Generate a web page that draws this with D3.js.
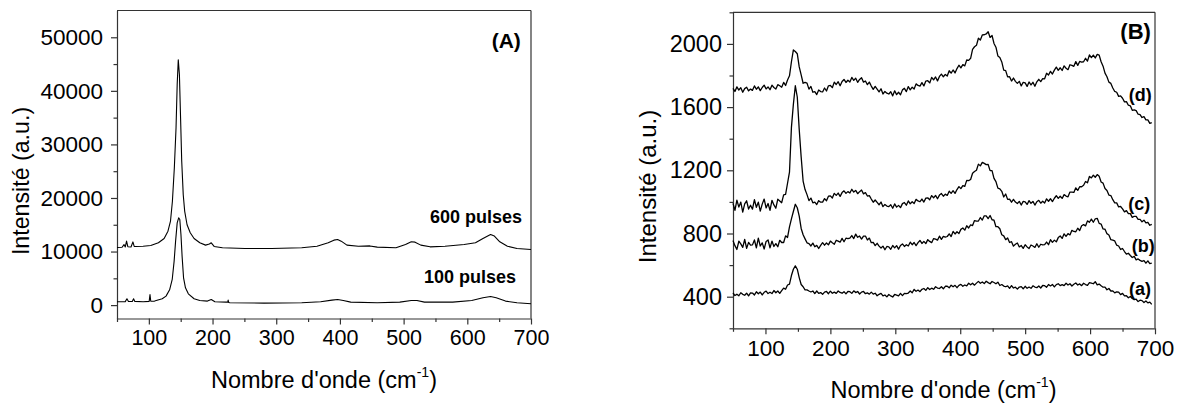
<!DOCTYPE html>
<html><head><meta charset="utf-8">
<script src="https://cdn.jsdelivr.net/npm/d3@7"></script>
<style>
body{margin:0;background:#fff;}
svg{display:block;font-family:"Liberation Sans",Arial,sans-serif;}
.axis path,.axis line{stroke:#333;stroke-width:1.2px;}
.axis text{fill:#000;}
</style></head><body>
<svg id="c" width="1184" height="406"></svg>
<script>
// ---------- Panel A data ----------
const waveA600 = [50,58,61,63,65,67,72,75,77,79,91,103,115,124,130,134,137,140,142.7,144.5,146.2,148,149.8,151.6,154,156.3,160,165,171,180,189,195,198,202.5,215.6,251,292.6,340,364,381.6,390.5,396.4,402,411,429,447,458.6,488,503,512,518,527,541.6,565,595,612.8,624.6,636.5,642.5,651,663,678,700];
const int600 =   [10760,10800,11300,10850,11940,10900,10850,11800,10950,10950,11000,11130,11630,12440,13800,15700,19400,25600,33100,41200,45800,43000,35000,26900,20600,17500,15000,13500,12440,11630,11200,11400,11630,10950,10700,10570,10570,10700,11000,11630,12130,12250,11940,11200,11000,11050,10820,10700,11320,11820,11750,11200,10880,11000,11320,11630,12440,13190,12880,11820,11000,10570,10390];
const waveA100 = [50,63,65.6,68,74,76,78,91,100.5,101.8,103,109,121,127,132.6,136.7,139.7,142,144.5,146.8,148.6,150.4,152.2,154.5,157.5,162,171,180,192,198,203.7,221.5,224,224.5,225.5,227.4,280.8,340,369.7,387.5,396.4,405.3,417,458.6,494,512,521,532.7,577,607,624.6,636.5,645.4,660,678,700];
const int100 =   [620,650,1180,660,680,1180,690,620,700,1990,720,750,1180,1680,2860,4790,8210,11940,15360,16300,15990,13190,9140,5100,3230,2110,1180,870,750,1060,620,560,560,930,480,435,373,435,620,930,1060,870,560,435,560,870,870,560,560,870,1370,1620,1370,750,435,250];
const yTicksA = [0,10000,20000,30000,40000,50000];
const xTicks = [100,200,300,400,500,600,700];

// ---------- Panel B data ----------
const waveB = [50,53,56,59,62,65,68,71,74,77,80,83,86,89,92,95,98,101,104,107,110,113,116,119,122,125,128,131,134,137,140,143,146,149,152,155,158,161,164,167,170,173,176,179,182,185,188,191,194,197,200,203,206,209,212,215,218,221,224,227,230,233,236,239,242,245,248,251,254,257,260,263,266,269,272,275,278,281,284,287,290,293,296,299,302,305,308,311,314,317,320,323,326,329,332,335,338,341,344,347,350,353,356,359,362,365,368,371,374,377,380,383,386,389,392,395,398,401,404,407,410,413,416,419,422,425,428,431,434,437,440,443,446,449,452,455,458,461,464,467,470,473,476,479,482,485,488,491,494,497,500,503,506,509,512,515,518,521,524,527,530,533,536,539,542,545,548,551,554,557,560,563,566,569,572,575,578,581,584,587,590,593,596,599,602,605,608,611,614,617,620,623,626,629,632,635,638,641,644,647,650,653,656,659,662,665,668,671,674,677,680,683,686,689,692,695];
const specD = [1719,1699,1728,1708,1723,1694,1717,1726,1703,1714,
1706,1734,1713,1728,1704,1724,1739,1715,1728,1710,
1739,1724,1714,1742,1735,1726,1756,1737,1772,1798,
1887,1962,1952,1938,1854,1804,1751,1757,1752,1714,
1731,1694,1698,1679,1708,1698,1696,1721,1702,1735,
1737,1723,1758,1743,1761,1735,1762,1775,1756,1770,
1759,1788,1769,1783,1757,1775,1786,1758,1765,1742,
1758,1733,1712,1731,1714,1696,1716,1683,1699,1688,
1683,1697,1671,1703,1679,1694,1678,1709,1719,1698,
1730,1709,1726,1714,1747,1737,1733,1755,1734,1765,
1767,1753,1788,1772,1791,1766,1794,1809,1792,1807,
1797,1830,1815,1835,1816,1844,1865,1848,1869,1861,
1898,1896,1909,1966,1982,1991,2036,2025,2057,2058,
2063,2077,2041,2053,2003,1979,1924,1914,1886,1834,
1831,1791,1792,1765,1784,1763,1750,1763,1734,1757,
1753,1731,1759,1740,1757,1732,1760,1776,1761,1780,
1779,1814,1803,1826,1809,1834,1853,1833,1849,1832,
1861,1846,1837,1868,1864,1858,1888,1864,1889,1885,
1887,1909,1891,1930,1913,1929,1911,1934,1929,1887,
1859,1815,1792,1758,1750,1721,1699,1694,1668,1671,
1656,1633,1635,1612,1608,1580,1583,1578,1555,1553,
1534,1540,1519,1519,1497,1502];
const specC = [991,947,1011,967,999,935,987,1007,955,979,
954,1014,966,998,942,986,1018,962,990,946,
1010,981,960,1017,1006,995,1045,1048,1118,1188,
1472,1618,1735,1664,1458,1284,1132,1078,1046,1008,
1024,994,999,983,1008,998,999,1021,1007,1036,
1038,1025,1054,1041,1056,1035,1059,1070,1054,1065,
1056,1080,1062,1073,1052,1065,1075,1051,1059,1037,
1040,1018,998,1012,997,982,999,970,984,974,
970,982,960,987,967,978,964,989,996,979,
1006,988,1001,990,1016,1006,1001,1018,999,1024,
1026,1013,1040,1026,1041,1020,1043,1053,1036,1049,
1041,1068,1054,1071,1054,1078,1097,1084,1103,1098,
1136,1135,1142,1181,1192,1200,1239,1228,1250,1244,
1236,1237,1198,1198,1149,1128,1087,1083,1067,1031,
1050,1016,1017,998,1016,999,990,1003,980,1003,
1000,984,1008,991,1003,980,1001,1010,992,1004,
993,1019,1004,1020,1002,1023,1039,1022,1036,1022,
1046,1037,1032,1062,1062,1060,1089,1073,1096,1096,
1105,1129,1121,1161,1152,1169,1156,1173,1162,1126,
1119,1085,1072,1043,1040,1014,994,994,968,971,
956,937,945,926,926,902,909,908,889,890,
874,884,867,871,852,858];
const specB = [755,723,699,751,734,712,762,706,744,727,
728,759,709,771,721,741,702,750,759,709,
752,718,736,716,757,743,743,785,775,842,
893,939,985,963,910,832,792,766,741,736,
721,739,716,725,705,725,742,726,740,728,
752,741,732,757,752,745,769,748,770,767,
771,787,768,796,776,784,765,784,784,759,
771,742,744,723,738,720,708,720,697,718,
716,700,724,709,723,701,724,734,718,729,
721,745,729,743,723,742,756,737,750,736,
761,750,742,768,764,758,783,763,782,777,
781,798,781,813,797,811,800,826,835,821,
849,835,854,850,882,878,879,901,885,912,
912,894,914,887,884,843,843,830,792,785,
761,772,743,748,720,732,740,715,724,706,
729,715,705,727,721,712,735,713,732,728,
729,746,729,761,744,758,747,774,784,769,
798,782,799,791,820,813,811,833,819,849,
856,848,880,871,891,871,893,896,864,860,
829,827,799,791,761,758,753,726,721,699,
705,686,669,675,661,648,655,633,639,630,
624,629,612,627,610,613];
const specA = [424,407,416,406,425,415,409,422,405,424,
423,411,431,419,429,411,428,435,420,428,
420,439,425,436,421,438,454,447,474,480,
534,574,595,574,521,477,463,443,443,436,
430,436,420,436,421,426,415,429,433,419,
435,422,429,421,436,427,422,432,418,433,
432,421,437,426,433,417,429,433,419,424,
416,429,416,422,406,415,421,405,411,399,
414,405,398,414,410,405,421,407,421,419,
423,436,425,446,434,442,432,447,452,440,
457,445,454,447,463,455,452,463,450,466,
466,456,473,463,472,457,472,478,466,474,
469,485,475,485,473,486,497,485,493,483,
498,489,482,496,490,482,492,471,477,467,
463,469,453,470,455,460,448,461,464,450,
466,453,461,453,469,461,457,468,455,471,
470,460,477,468,477,462,476,482,470,476,
470,485,474,482,468,479,487,474,481,470,
485,477,472,489,486,482,495,475,480,469,
460,461,444,452,436,437,424,431,429,413,
421,405,406,393,401,389,381,384,369,378,
375,363,373,361,366,351];
const yTicksB = [400,800,1200,1600,2000];

const svg = d3.select("#c");
const FONT = '"Liberation Sans",Arial,sans-serif';

function panel(o){
  const g = svg.append("g");
  const x = d3.scaleLinear().domain(o.xDom).range(o.xRange);
  const y = d3.scaleLinear().domain(o.yDom).range(o.yRange);
  g.append("line").attr("x1",o.xRange[0]).attr("x2",o.xRange[1]).attr("y1",o.yRange[1]).attr("y2",o.yRange[1]).attr("stroke","#333").attr("stroke-width",1.2);
  g.append("line").attr("x1",o.xRange[1]).attr("x2",o.xRange[1]).attr("y1",o.yRange[0]).attr("y2",o.yRange[1]).attr("stroke","#333").attr("stroke-width",1.2);
  g.append("g").attr("class","axis").attr("transform",`translate(0,${o.yRange[0]})`)
    .call(d3.axisBottom(x).tickValues(o.xMinor).tickSize(3.5).tickFormat("")).call(s=>s.select(".domain").remove());
  g.append("g").attr("class","axis").attr("transform",`translate(${o.xRange[0]},0)`)
    .call(d3.axisLeft(y).tickValues(o.yMinor).tickSize(3.5).tickFormat("")).call(s=>s.select(".domain").remove());
  const ax = g.append("g").attr("class","axis").attr("transform",`translate(0,${o.yRange[0]})`)
    .call(d3.axisBottom(x).tickValues(o.xTicks).tickSize(6).tickSizeOuter(0).tickPadding(o.xPad));
  ax.selectAll("text").attr("font-size",o.fsX).attr("font-family",FONT);
  const ay = g.append("g").attr("class","axis").attr("transform",`translate(${o.xRange[0]},0)`)
    .call(d3.axisLeft(y).tickValues(o.yTicks).tickSize(6).tickSizeOuter(0).tickPadding(o.yPad).tickFormat(d3.format("d")));
  ay.selectAll("text").attr("font-size",o.fsY).attr("font-family",FONT);
  const line = d3.line().x(d=>x(d[0])).y(d=>y(d[1]));
  o.series.forEach(s=>{
    g.append("path").datum(s.w.map((w,i)=>[w,s.v[i]])).attr("d",line)
      .attr("fill","none").attr("stroke","#000").attr("stroke-width",o.sw).attr("stroke-linejoin","round");
  });
  o.labels.forEach(l=>{
    g.append("text").attr("x",x(l.x)).attr("y",y(l.y)).attr("text-anchor","end")
      .attr("font-weight","bold").attr("font-size",l.fs).attr("font-family",FONT).text(l.t);
  });
  const xt = g.append("text").attr("x",o.xTitle[0]).attr("y",o.xTitle[1]).attr("text-anchor","middle")
    .attr("font-size",o.fsT).attr("font-family",FONT);
  xt.append("tspan").text("Nombre d'onde (cm");
  xt.append("tspan").attr("font-size",o.fsT*0.6).attr("dy",-o.fsT*0.45).text("-1");
  xt.append("tspan").attr("dy",o.fsT*0.45).text(")");
  g.append("text").attr("transform",`translate(${o.yTitle[0]},${o.yTitle[1]}) rotate(-90)`)
    .attr("text-anchor","middle").attr("font-size",o.fsTY).attr("font-family",FONT).text("Intensité (a.u.)");
}

panel({
  xDom:[50,700], xRange:[117,531], yDom:[-2500,55000], yRange:[318.5,10.5],
  xTicks:xTicks, yTicks:yTicksA, xMinor:[50,150,250,350,450,550,650], yMinor:[5000,15000,25000,35000,45000],
  xPad:5.5, yPad:8, fsX:21.5, fsY:22.5, fsT:23.5, fsTY:23.2, sw:1.1,
  series:[{w:waveA600,v:int600},{w:waveA100,v:int100}],
  labels:[{t:"(A)",x:684,y:48000,fs:21},{t:"600 pulses",x:686,y:15380,fs:18},{t:"100 pulses",x:676.5,y:4125,fs:18}],
  xTitle:[324,388], yTitle:[28.5,181]
});
panel({
  xDom:[50,700], xRange:[733,1155], yDom:[200,2200], yRange:[328.3,12.3],
  xTicks:xTicks, yTicks:yTicksB, xMinor:[50,150,250,350,450,550,650], yMinor:[200,600,1000,1400,1800,2200],
  xPad:5.5, yPad:5, fsX:22.5, fsY:23.5, fsT:23.5, fsTY:24, sw:1.3,
  series:[{w:waveB,v:specD},{w:waveB,v:specC},{w:waveB,v:specB},{w:waveB,v:specA}],
  labels:[{t:"(B)",x:693.7,y:2032,fs:22},{t:"(d)",x:695,y:1637,fs:18},{t:"(c)",x:692.6,y:947,fs:18},{t:"(b)",x:699.5,y:684,fs:18},{t:"(a)",x:694,y:409,fs:18}],
  xTitle:[943.5,398], yTitle:[656,186.5]
});
</script></body></html>
